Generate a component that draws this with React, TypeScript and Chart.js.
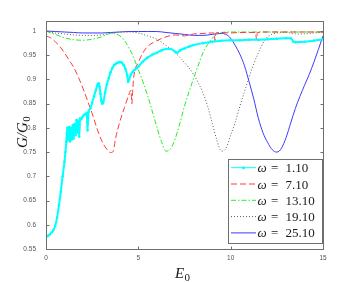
import React, { useEffect, useRef } from 'react';
import { Chart, registerables } from 'chart.js';

Chart.register(...registerables);

const xTicks = [0, 5, 10, 15];
const yTicks = [0.55, 0.6, 0.65, 0.7, 0.75, 0.8, 0.85, 0.9, 0.95, 1];
const omegaLabels = ['1.10', '7.10', '13.10', '19.10', '25.10'];

const cyanX = [0, 0.1, 0.2, 0.3, 0.4, 0.5, 0.6, 0.7, 0.8, 0.9, 1.0, 1.05, 1.1, 1.15, 1.2, 1.25, 1.3, 1.35, 1.4, 1.45, 1.5, 1.55, 1.6, 1.65, 1.7, 1.75, 1.8, 1.85, 1.9, 2.0, 2.1, 2.2, 2.25, 2.3, 2.4, 2.5, 2.6, 2.7, 2.8, 2.85, 2.9, 2.95, 3.0, 3.05, 3.1, 3.2, 3.3, 3.4, 3.5, 3.6, 3.7, 3.8, 3.9, 4.0, 4.1, 4.2, 4.3, 4.4, 4.45, 4.5, 4.6, 4.7, 4.8, 4.9, 5.0, 5.25, 5.5, 5.75, 6.0, 6.25, 6.5, 6.75, 7.0, 7.1, 7.25, 7.5, 7.75, 8.0, 8.5, 9.0, 9.5, 10.0, 10.5, 11.0, 11.5, 12.0, 12.5, 13.0, 13.25, 13.4, 13.5, 14.0, 14.5, 15.0];
const cyanY = [0.575, 0.577, 0.58, 0.584, 0.589, 0.598, 0.615, 0.64, 0.668, 0.7, 0.73, 0.75, 0.772, 0.8, 0.775, 0.802, 0.772, 0.8, 0.776, 0.806, 0.778, 0.808, 0.785, 0.816, 0.79, 0.815, 0.782, 0.82, 0.818, 0.824, 0.828, 0.83, 0.795, 0.833, 0.84, 0.852, 0.865, 0.878, 0.89, 0.892, 0.885, 0.87, 0.856, 0.85, 0.852, 0.873, 0.89, 0.903, 0.915, 0.924, 0.93, 0.933, 0.935, 0.936, 0.935, 0.93, 0.922, 0.908, 0.895, 0.9, 0.91, 0.916, 0.92, 0.923, 0.927, 0.937, 0.945, 0.951, 0.955, 0.96, 0.963, 0.963, 0.957, 0.955, 0.96, 0.964, 0.968, 0.971, 0.975, 0.978, 0.98, 0.981, 0.981, 0.982, 0.982, 0.983, 0.984, 0.985, 0.985, 0.978, 0.977, 0.978, 0.98, 0.983];

const redX = [0, 0.25, 0.5, 0.75, 1, 1.25, 1.5, 1.75, 2, 2.25, 2.5, 2.75, 3, 3.25, 3.5, 3.65, 3.75, 4, 4.25, 4.5, 4.6, 4.65, 4.7, 4.75, 5, 5.25, 5.5, 6, 6.5, 7, 7.5, 8, 8.5, 9, 9.1, 9.15, 9.2, 9.5, 10, 10.5, 11, 11.35, 11.4, 11.45, 12, 13, 14, 15];
const redY = [0.99, 0.986, 0.978, 0.968, 0.955, 0.94, 0.925, 0.905, 0.882, 0.856, 0.83, 0.8, 0.775, 0.758, 0.749, 0.752, 0.775, 0.813, 0.842, 0.87, 0.878, 0.85, 0.88, 0.905, 0.935, 0.955, 0.968, 0.98, 0.988, 0.992, 0.99, 0.994, 0.995, 0.996, 0.996, 0.98, 0.996, 0.997, 0.996, 0.997, 0.997, 0.997, 0.982, 0.997, 0.998, 0.998, 0.998, 0.998];

const greenX = [0, 0.5, 1, 1.5, 2, 2.5, 3, 3.5, 4, 4.25, 4.5, 4.75, 5, 5.25, 5.5, 5.75, 6, 6.25, 6.5, 6.75, 7, 7.25, 7.5, 7.75, 8, 8.25, 8.5, 8.75, 9, 9.5, 10, 11, 12, 13, 14, 15];
const greenY = [1.0, 0.993, 0.986, 0.982, 0.981, 0.983, 0.988, 0.995, 0.99, 0.98, 0.965, 0.945, 0.92, 0.895, 0.867, 0.835, 0.802, 0.772, 0.752, 0.757, 0.778, 0.81, 0.845, 0.875, 0.903, 0.93, 0.955, 0.972, 0.985, 0.997, 0.998, 0.998, 0.998, 0.998, 0.998, 0.998];

const grayX = [0, 0.5, 1, 1.5, 2, 2.5, 3, 3.5, 4, 4.5, 5, 5.5, 6, 6.5, 7, 7.5, 8, 8.25, 8.5, 8.75, 9, 9.25, 9.5, 9.75, 10, 10.25, 10.5, 10.75, 11, 11.25, 11.5, 11.75, 12, 12.5, 13, 13.5, 14, 14.5, 15];
const grayY = [0.998, 0.996, 0.994, 0.992, 0.991, 0.991, 0.992, 0.995, 0.998, 0.998, 0.996, 0.99, 0.983, 0.97, 0.955, 0.935, 0.91, 0.893, 0.872, 0.845, 0.81, 0.775, 0.752, 0.758, 0.785, 0.812, 0.845, 0.875, 0.905, 0.932, 0.955, 0.975, 0.988, 0.996, 0.997, 0.994, 0.994, 0.996, 0.997];

const blueX = [0, 0.5, 1, 1.5, 2, 2.5, 3, 3.5, 4, 4.5, 5, 5.5, 6, 6.5, 7, 7.5, 8, 8.5, 9, 9.5, 9.75, 10, 10.25, 10.5, 10.75, 11, 11.25, 11.5, 11.75, 12, 12.25, 12.5, 12.75, 13, 13.25, 13.5, 13.75, 14, 14.25, 14.5, 14.75, 15];
const blueY = [1.0, 0.999, 0.998, 0.997, 0.996, 0.996, 0.996, 0.997, 0.998, 0.999, 0.999, 0.999, 0.999, 0.997, 0.995, 0.993, 0.991, 0.991, 0.993, 0.995, 0.993, 0.985, 0.97, 0.952, 0.928, 0.895, 0.86, 0.82, 0.79, 0.77, 0.755, 0.75, 0.758, 0.78, 0.81, 0.84, 0.865, 0.888, 0.91, 0.935, 0.962, 0.99];

const SERIF = '"Liberation Serif", "Times New Roman", serif';
const SANS = '"Liberation Sans", Arial, sans-serif';

function pts(xs: number[], ys: number[]) {
  return xs.map((x, i) => ({ x, y: ys[i] }));
}

function subText(ctx: CanvasRenderingContext2D, x: number, y: number, main: string, sub: string, size: number) {
  ctx.textAlign = 'left';
  ctx.font = `italic ${size}px ${SERIF}`;
  ctx.fillText(main, x, y);
  const w = ctx.measureText(main).width;
  ctx.font = `${Math.round(size * 0.7)}px ${SERIF}`;
  ctx.fillText(sub, x + w + 0.3, y + size * 0.2);
}

const framePlugin = {
  id: 'frame',
  afterDraw(chart: any) {
    const ctx: CanvasRenderingContext2D = chart.ctx;
    const a = chart.chartArea;
    const xs = chart.scales.x;
    const ys = chart.scales.y;
    ctx.save();
    ctx.strokeStyle = '#6e6e6e';
    ctx.lineWidth = 1;
    const L = Math.round(a.left) + 0.5, R = Math.round(a.right) + 0.5;
    const T = Math.round(a.top) + 0.5, B = Math.round(a.bottom) + 0.5;
    ctx.strokeRect(L, T, R - L, B - T);
    ctx.beginPath();
    xTicks.forEach((v) => {
      const px = Math.round(xs.getPixelForValue(v)) + 0.5;
      ctx.moveTo(px, B); ctx.lineTo(px, B - 3);
      ctx.moveTo(px, T); ctx.lineTo(px, T + 3);
    });
    yTicks.forEach((v) => {
      const py = Math.round(ys.getPixelForValue(v)) + 0.5;
      ctx.moveTo(L, py); ctx.lineTo(L + 3, py);
      ctx.moveTo(R, py); ctx.lineTo(R - 3, py);
    });
    ctx.stroke();

    // axis titles
    ctx.fillStyle = '#1a1a1a';
    ctx.textBaseline = 'alphabetic';
    subText(ctx, 175, 278, 'E', '0', 15);
    ctx.save();
    ctx.translate(27, 148);
    ctx.rotate(-Math.PI / 2);
    subText(ctx, 0, 0, 'G/G', '0', 15);
    ctx.restore();

    // legend
    const lx = 228.5, ly = 159.5, lw = 94, lh = 84;
    ctx.fillStyle = '#ffffff';
    ctx.fillRect(lx, ly, lw, lh);
    ctx.strokeStyle = '#6e6e6e';
    ctx.strokeRect(lx, ly, lw, lh);
    chart.data.datasets.forEach((ds: any, i: number) => {
      const yc = 167.7 + i * 16.3;
      ctx.save();
      ctx.strokeStyle = ds.borderColor;
      ctx.lineWidth = ds.legendWidth || ds.borderWidth;
      ctx.setLineDash(ds.borderDash || []);
      ctx.beginPath();
      ctx.moveTo(231, yc);
      ctx.lineTo(256, yc);
      ctx.stroke();
      if (ds.pointRadius > 0) {
        ctx.fillStyle = ds.borderColor;
        ctx.beginPath();
        ctx.arc(243.5, yc, 1.5, 0, Math.PI * 2);
        ctx.fill();
      }
      ctx.restore();
      ctx.fillStyle = '#1a1a1a';
      ctx.textAlign = 'left';
      ctx.textBaseline = 'alphabetic';
      ctx.font = `italic 13px ${SERIF}`;
      ctx.fillText('\u03c9', 257.5, yc + 4.5);
      ctx.font = `13px ${SERIF}`;
      ctx.fillText('=', 271, yc + 4.5);
      ctx.fillText(omegaLabels[i], 285.5, yc + 4.5);
    });
    ctx.restore();
  },
};

export default function App() {
  const ref = useRef<HTMLCanvasElement>(null);
  useEffect(() => {
    const chart = new Chart(ref.current as HTMLCanvasElement, {
      type: 'line',
      data: {
        datasets: [
          {
            label: '\u03c9 = ' + omegaLabels[0],
            data: pts(cyanX, cyanY),
            borderColor: '#00ffff',
            backgroundColor: '#00ffff',
            borderWidth: 2,
            borderDash: [],
            legendWidth: 1,
            pointRadius: 1.3,
            pointBorderWidth: 0,
            pointBackgroundColor: '#00ffff',
            cubicInterpolationMode: 'monotone',
          } as any,
          {
            label: '\u03c9 = ' + omegaLabels[1],
            data: pts(redX, redY),
            borderColor: '#ff3b3b',
            borderWidth: 1,
            borderDash: [6, 3],
            pointRadius: 0,
            cubicInterpolationMode: 'monotone',
          } as any,
          {
            label: '\u03c9 = ' + omegaLabels[2],
            data: pts(greenX, greenY),
            borderColor: '#22ee22',
            borderWidth: 1,
            borderDash: [5, 2, 1.5, 2],
            pointRadius: 0,
            cubicInterpolationMode: 'monotone',
          } as any,
          {
            label: '\u03c9 = ' + omegaLabels[3],
            data: pts(grayX, grayY),
            borderColor: '#5a5a5a',
            borderWidth: 1,
            borderDash: [1, 2],
            pointRadius: 0,
            cubicInterpolationMode: 'monotone',
          } as any,
          {
            label: '\u03c9 = ' + omegaLabels[4],
            data: pts(blueX, blueY),
            borderColor: '#3a3aff',
            borderWidth: 1,
            borderDash: [],
            pointRadius: 0,
            cubicInterpolationMode: 'monotone',
          } as any,
        ],
      },
      options: {
        animation: false,
        responsive: false,
        maintainAspectRatio: false,
        layout: { padding: { top: 21, right: 34, left: 0, bottom: 0 } },
        scales: {
          x: {
            type: 'linear',
            min: 0,
            max: 15,
            afterBuildTicks: (s: any) => { s.ticks = xTicks.map((v) => ({ value: v })); },
            afterFit: (s: any) => { s.height = 33; },
            grid: { display: false, drawTicks: false },
            border: { display: false },
            ticks: { font: { size: 6.5, family: SANS }, color: '#555555', padding: 5, maxRotation: 0, autoSkip: false, callback: (v: any) => String(v) },
          },
          y: {
            type: 'linear',
            min: 0.55,
            max: 1.0207,
            afterBuildTicks: (s: any) => { s.ticks = yTicks.map((v) => ({ value: v })); },
            afterFit: (s: any) => { s.width = 46; },
            grid: { display: false, drawTicks: false },
            border: { display: false },
            ticks: { font: { size: 6.5, family: SANS }, color: '#555555', padding: 10, autoSkip: false, callback: (v: any) => String(Math.round(Number(v) * 100) / 100) },
          },
        },
        plugins: { legend: { display: false }, tooltip: { enabled: false } },
      },
      plugins: [framePlugin],
    });
    return () => chart.destroy();
  }, []);
  return (
    <div style={{ position: 'absolute', left: 0, top: 0, width: 357, height: 282, background: '#ffffff' }}>
      <canvas ref={ref} width={357} height={282} style={{ width: 357, height: 282, display: 'block' }} />
    </div>
  );
}
